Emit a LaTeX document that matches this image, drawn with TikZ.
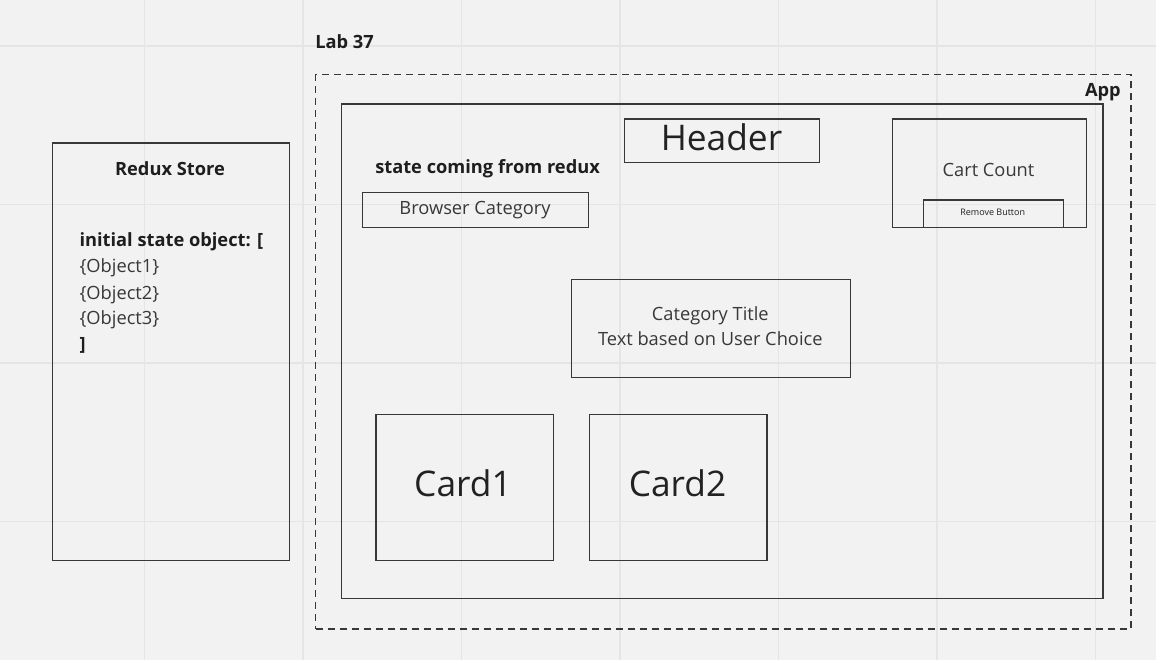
\documentclass[tikz,border=0pt]{standalone}
\usepackage{fontspec}
\setmainfont{Open Sans}
\begin{document}
\begin{tikzpicture}[x=0.75pt,y=-0.75pt,
  box/.style={draw=linec, line width=1.1pt, inner sep=0pt, anchor=north west},
  dbox/.style={draw=linec, line width=1.1pt, dash pattern=on 5.25pt off 3.75pt, inner sep=0pt, anchor=north west},
  txt/.style={inner sep=0pt, anchor=base, text=txtc, font=\fontsize{13.7pt}{16pt}\selectfont},
  btxt/.style={inner sep=0pt, anchor=base, text=boldc, font=\fontsize{13.7pt}{16pt}\selectfont\bfseries},
  big/.style={inner sep=0pt, anchor=base, text=bigc, font=\fontsize{26.5pt}{30pt}\selectfont},
  gridl/.style={draw=gridc, line width=1.2pt}]
\definecolor{bgc}{HTML}{F2F2F2}
\definecolor{gridc}{HTML}{E5E5E5}
\definecolor{linec}{HTML}{383838}
\definecolor{txtc}{HTML}{383838}
\definecolor{boldc}{HTML}{1E1E1E}
\definecolor{bigc}{HTML}{222222}
\useasboundingbox (0,0) rectangle (1156,660);
\fill[bgc] (0,0) rectangle (1156,660);
% grid
\foreach \gx in {144.5,303,461.5,620,778.5,937,1095.5}
  \draw[gridl] (\gx,0) -- (\gx,660);
\foreach \gy in {46,204.5,363,521.5}
  \draw[gridl] (0,\gy) -- (1156,\gy);
% Redux store
\node[box, minimum width=237*0.75pt, minimum height=417.7*0.75pt] (redux) at (51.7,142.3) {};
\node[btxt] (reduxt) at (170,175) {Redux Store};
\node[btxt, anchor=base west] (init) at (79.3,246.7) {initial state object: [};
\node[txt, anchor=base west] (o1) at (79.3,272.7) {\{Object1\}};
\node[txt, anchor=base west] (o2) at (79.3,299) {\{Object2\}};
\node[txt, anchor=base west] (o3) at (79.3,324.7) {\{Object3\}};
\node[btxt, anchor=base west] (close) at (79.3,350.7) {]};
% Lab and App
\node[btxt, anchor=base west] (lab) at (315,49) {Lab 37};
\node[dbox, minimum width=815.3*0.75pt, minimum height=554.3*0.75pt] (appbox) at (315,74) {};
\node[btxt, anchor=base east] (app) at (1121,96) {App};
\node[box, minimum width=761.6*0.75pt, minimum height=494.4*0.75pt] (inner) at (340.7,103.3) {};
% Header
\node[box, minimum width=194.5*0.75pt, minimum height=43.7*0.75pt] (header) at (624,118.3) {};
\node[big] (headert) at (721.5,150.7) {Header};
% Cart count
\node[box, minimum width=194.3*0.75pt, minimum height=108.4*0.75pt] (cart) at (891.7,118.3) {};
\node[txt] (cartt) at (988.5,176.7) {Cart Count};
\node[box, minimum width=140*0.75pt, minimum height=27.4*0.75pt] (remove) at (922.7,199.3) {};
\node[txt, font=\fontsize{6.75pt}{8pt}\selectfont, text=boldc] (removet) at (992.7,215) {Remove Button};
% state / browser category
\node[btxt, anchor=base west] (state) at (375,173.3) {state coming from redux};
\node[box, minimum width=226*0.75pt, minimum height=35.3*0.75pt] (browser) at (362,191.7) {};
\node[txt] (browsert) at (475,214) {Browser Category};
% Category title
\node[box, minimum width=279.3*0.75pt, minimum height=97.7*0.75pt] (cat) at (570.7,279) {};
\node[txt] (catt1) at (710.3,320.7) {Category Title};
\node[txt] (catt2) at (710.3,345) {Text based on User Choice};
% Cards
\node[box, minimum width=177.4*0.75pt, minimum height=146*0.75pt] (card1) at (375.3,414) {};
\node[big] (card1t) at (463,496.7) {Card1};
\node[box, minimum width=177.6*0.75pt, minimum height=146*0.75pt] (card2) at (588.7,414) {};
\node[big] (card2t) at (677.5,496.7) {Card2};
\end{tikzpicture}
\end{document}
